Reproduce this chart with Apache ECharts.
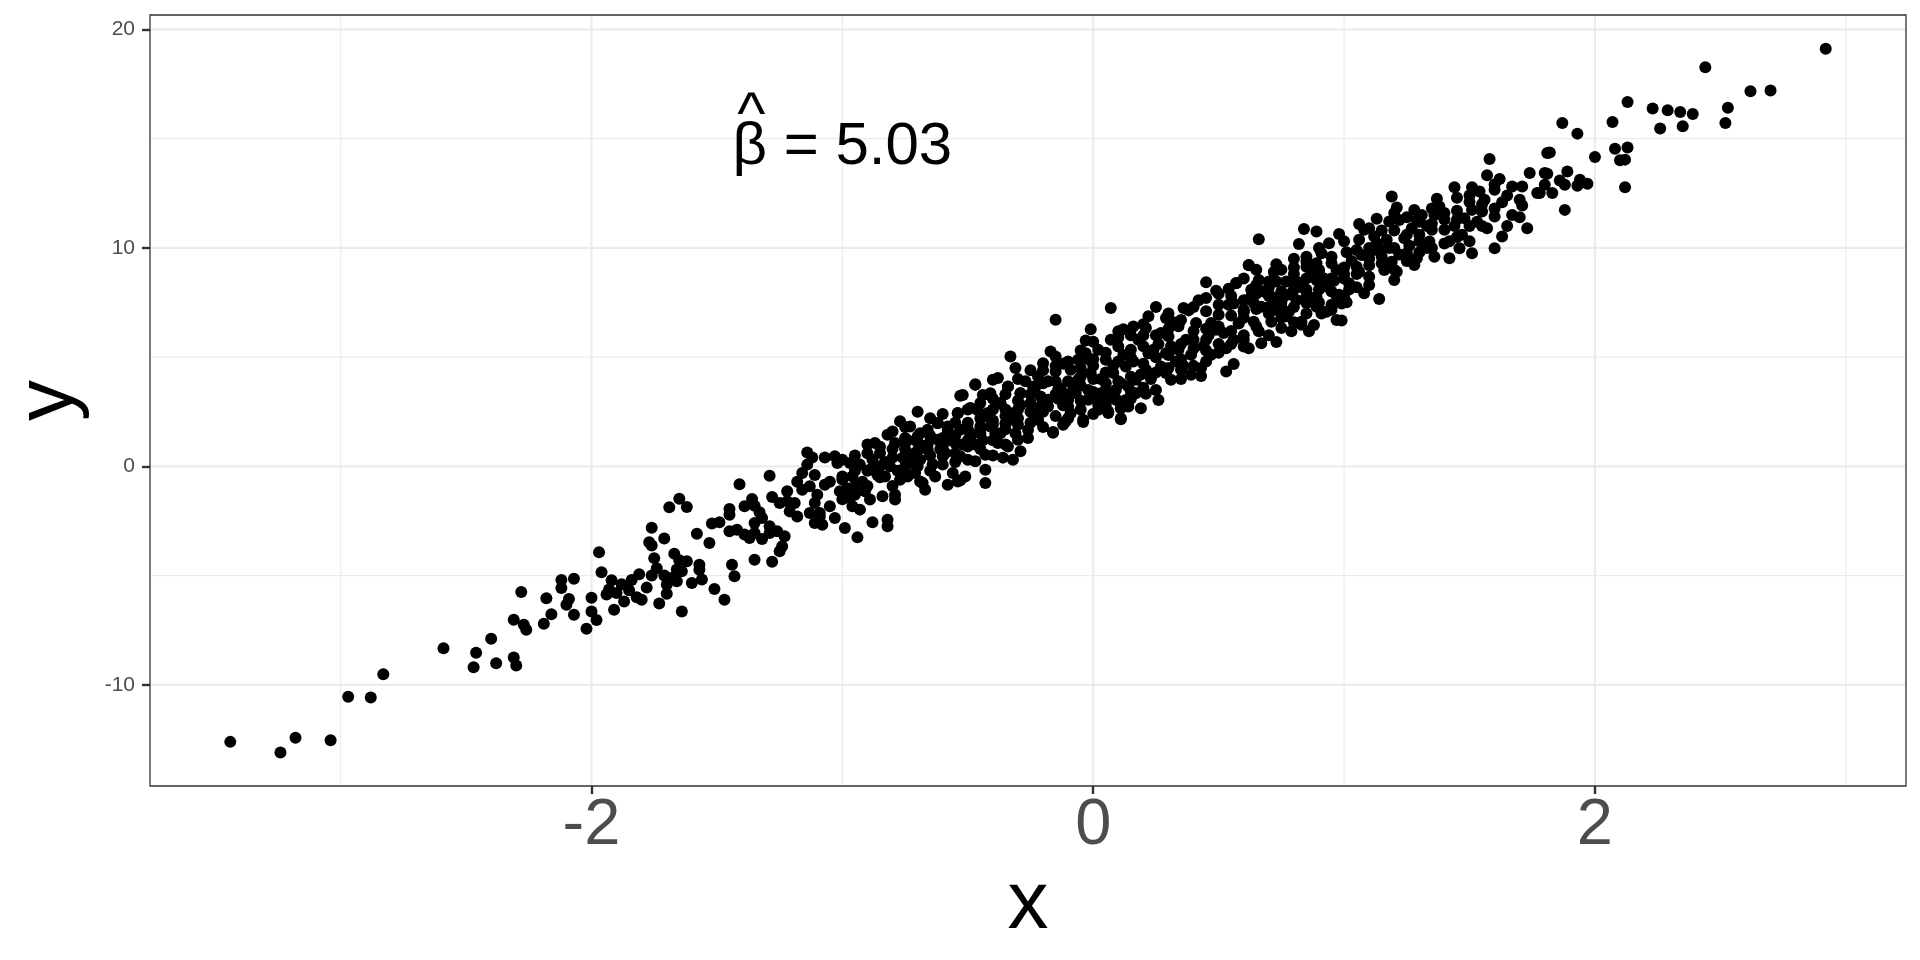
<!DOCTYPE html>
<html>
<head>
<meta charset="utf-8">
<title>beta hat scatter</title>
<script src="https://cdn.jsdelivr.net/npm/echarts@6/dist/echarts.min.js"></script>
<style>
  html, body { margin: 0; padding: 0; background: #fff; }
  #chart { width: 1920px; height: 960px; }
</style>
</head>
<body>
<div id="chart"></div>
<script>
// axis extents (ggplot expanded range)
const xRange = [-3.76, 3.24];
const yRange = [-14.63, 20.66];

const xTicks = [-2, 0, 2];
const yTicks = [-10, 0, 10, 20];
const xMinor = [-3, -1, 1, 3];
const yMinor = [-5, 5, 15];

// points, left tail
const pointsLower = [
  [-3.44,-12.61],[-3.24,-13.10],[-3.18,-12.42],[-3.04,-12.54],[-2.97,-10.55],[-2.88,-10.58],[-2.83,-9.51],
  [-2.59,-8.33],[-2.46,-8.53],[-2.47,-9.19],[-2.40,-7.89],[-2.38,-9.01],[-2.31,-8.75],[-2.30,-9.11],
  [-2.28,-5.75],[-2.31,-7.02],[-2.27,-7.25],[-2.26,-7.48],[-2.19,-7.20],[-2.18,-6.04],[-2.16,-6.77],
  [-2.12,-5.20],[-2.12,-5.57],[-2.07,-5.14],[-2.09,-6.07],[-2.10,-6.33],[-2.07,-6.79],[-2.02,-7.43],
  [-2.00,-6.64],[-1.98,-7.03],[-2.00,-6.01],[-1.97,-3.93],[-1.96,-4.85],[-1.92,-5.21],[-1.94,-5.87],
  [-1.91,-6.56],[-1.90,-5.80],[-1.87,-6.18],[-1.85,-5.67],[-1.82,-5.99],[-1.81,-4.94],[-1.78,-5.55],
  [-1.76,-2.81],[-1.71,-3.30],[-1.77,-3.47],[-1.76,-3.62],[-1.75,-4.20],[-1.74,-4.66],[-1.71,-5.00],
  [-1.70,-5.41],[-1.70,-5.83],[-1.73,-6.28],[-1.69,-1.87],[-1.65,-1.48],[-1.65,-4.30],[-1.66,-4.72],
  [-1.64,-6.64],[-1.93,-5.64],[-1.88,-5.40],[-1.84,-5.20],[-1.80,-6.10],[-1.76,-5.00],[-1.68,-5.10],
  [-1.67,-4.00],
  [-1.62,-1.86],[-1.58,-3.08],[-1.53,-3.51],[-1.52,-2.62],[-1.49,-2.56],[-1.45,-1.95],[-1.45,-2.21],
  [-1.39,-1.83],[-1.35,-1.80],[-1.33,-2.10],[-1.32,-2.36],[-1.35,-2.59],[-1.45,-2.97],[-1.42,-2.90],
  [-1.39,-3.12],[-1.37,-3.28],[-1.35,-3.05],[-1.32,-3.32],[-1.29,-2.74],[-1.29,-3.05],[-1.26,-2.97],
  [-1.23,-3.20],[-1.24,-3.66],[-1.25,-3.89],[-1.35,-4.27],[-1.28,-4.37],[-1.44,-4.50],[-1.43,-5.03],
  [-1.62,-4.34],[-1.64,-4.80],[-1.57,-4.50],[-1.57,-4.73],[-1.56,-5.18],[-1.60,-5.34],[-1.66,-5.26],
  [-1.51,-5.61],[-1.47,-6.10],[-1.25,-1.68],[-1.21,-2.06],[-1.18,-2.29],[-1.13,-2.13],[-1.11,-2.59],
  [-1.08,-2.67],[-1.09,-2.13],[-1.03,-2.36],[-1.05,-1.83],[-0.99,-2.82],[-0.96,-1.83],[-0.93,-1.98],
  [-0.94,-3.25],[-0.88,-2.56],[-0.82,-2.44],[-0.82,-2.74],[-0.79,-1.52]
];

// points, centre of the cloud
const pointsMiddle = [
  [-1.41,-0.82],[-1.36,-1.49],[-1.29,-0.43],[-1.22,-1.14],[-1.19,-1.68],[-1.16,-0.30],[-1.16,-1.07],
  [-1.14,0.64],[-1.14,0.08],[-1.12,0.41],[-1.13,-0.91],[-1.11,-0.40],[-1.11,-1.68],[-1.09,-2.29],
  [-1.07,-0.84],[-1.07,0.41],[-1.03,0.46],[-1.02,0.15],[-1.01,-1.14],[-1.00,-0.46],[-0.97,0.15],
  [-0.97,-1.45],[-0.96,-0.46],[-0.95,-0.91],[-0.93,0.08],[-0.91,-1.14],[-0.89,-0.15],[-0.89,-1.52],
  [-0.88,0.30],[-0.87,1.07],[-0.85,0.61],[-0.84,-1.37],[-0.83,-0.46],[-0.82,1.45],[-0.81,0.00],
  [-0.79,-1.30],[-0.79,1.07],[-0.77,2.06],[-0.77,-0.61],[-0.75,1.30],[-0.75,0.46],[-0.74,-0.46],
  [-0.73,1.83],[-0.72,0.15],[-0.70,2.50],[-0.69,1.52],[-0.68,-0.76],[-0.67,-1.07],[-0.66,0.76],
  [-0.66,1.68],[-0.63,-0.46],[-0.62,1.98],[-0.62,1.22],[-0.60,0.46],[-0.58,-0.84],[-0.58,1.83],
  [-0.56,-0.30],[-0.55,1.07],[-0.54,2.44],[-0.53,3.23],[-0.54,-0.69],
  [-0.95,-0.20],[-0.90,0.60],[-0.86,-0.40],[-0.83,0.20],[-0.80,0.80],[-0.78,-0.20],[-0.76,0.40],
  [-0.74,1.20],[-0.71,-0.30],[-0.69,0.30],[-0.66,1.00],[-0.64,0.10],[-0.61,0.80],[-0.57,1.20],
  [-0.55,0.20],[-0.52,1.00],[-0.50,2.00],[-0.47,1.00],[-0.44,1.20],[-0.40,0.50],[-0.36,0.40],
  [-0.40,2.10],[-0.35,2.60],[-1.05,-0.70],[-1.10,-1.30],[-0.98,-1.00],[-0.92,-0.70],[-1.18,-0.70],
  [-1.22,-1.60],[-1.28,-1.40],
  [-0.47,3.73],[-0.49,2.67],[-0.16,1.57],[-0.04,2.03],[-0.12,1.91],[0.11,2.16],[0.06,2.44],[0.02,2.59],
  [-0.43,-0.76],[-0.43,-0.15],[-0.51,-0.46],[-0.53,-0.64],[-0.69,-0.69],[-0.32,0.30],[-0.29,0.69],
  [-0.26,1.30],[-0.34,0.91],[-0.38,1.07],[-0.43,0.53],[-0.47,0.23],[-0.53,0.46],[-0.59,0.61],
  [-0.67,0.91],[-0.71,0.61],[-0.75,0.00],[-0.75,1.07],[-0.58,1.52],[-0.53,1.68],[-0.49,1.37],
  [-0.45,1.68],[-0.41,1.83],[-0.37,1.52],[-0.33,2.13],[-0.30,1.22],[-0.42,2.44],[-0.37,2.90],
  [-0.34,3.66],[-0.29,3.35],[-0.23,3.66],[-0.21,2.74],[-0.23,2.29],[-0.18,3.05],[-0.14,3.51],
  [-0.10,2.74],[-0.07,3.35],[-0.02,3.05],[0.03,3.35],[0.09,3.05],[0.14,2.74],[0.17,3.35],
  [-0.70,1.37],[-0.72,0.15],[-0.60,0.08],[-0.50,0.91],
  [-0.15,6.71],[0.07,7.25],[-0.33,5.03],[-0.01,6.28],[-0.03,5.76],[0.10,6.18],[0.12,6.28],[0.25,7.29],
  [0.22,6.87],[0.21,6.33],[0.36,7.25],[0.38,7.14],[0.45,8.43],[0.42,7.60],[0.45,7.71],[0.49,8.04],
  [0.54,8.13],[0.57,8.39],[0.62,9.20],[0.54,7.40],[0.50,6.94],[0.60,7.09],[0.58,6.56],[0.49,6.25],
  [0.56,5.80],[0.60,5.49],[0.53,5.41],[0.47,5.11],[0.56,4.69],[0.53,4.34],[0.43,4.50],[0.43,4.14],
  [0.39,4.19],[0.35,4.42],[0.39,5.11],[0.37,5.80],[0.34,6.41],[0.29,6.79],[0.30,5.95],[0.29,5.18],
  [0.27,4.57],[0.31,3.96],[0.26,3.04],[0.21,3.32],[0.19,2.66],[0.15,3.43],[0.11,2.20],[0.11,2.66],
  [0.13,3.04],[0.17,3.96],[0.21,4.42],[0.22,5.18],[0.18,5.80],[0.15,5.34],[0.10,5.49],[0.13,4.57],
  [0.08,4.27],[0.05,3.81],[0.06,3.20],[0.06,2.51],[0.02,2.81],[0.01,3.20],[-0.02,3.50],[-0.01,4.27],
  [0.02,5.34],[0.05,4.88],[-0.03,5.18],[-0.06,4.88],[-0.09,4.42],[-0.06,3.96],[-0.04,2.13],[-0.09,2.43],
  [-0.11,2.05],[-0.16,1.54],[-0.10,3.04],[-0.13,3.58],[-0.15,4.34],[-0.17,5.26],[-0.15,5.03],[-0.20,4.72],
  [-0.22,4.11],[-0.24,3.65],[-0.21,3.20],[-0.18,2.74],[-0.22,2.13],[-0.26,1.67],[-0.29,3.35],[-0.29,2.81],
  [-0.34,3.65],[-0.38,4.04],[-0.40,3.96],[-0.47,3.76],[-0.41,3.35],[-0.44,3.27],[-0.37,2.89],[-0.33,2.43],
  [-0.35,1.97],[-0.31,1.51],[-0.52,3.27],[-0.49,2.66],[-0.54,2.43],[-0.46,2.58],[-0.42,2.28],[-0.45,1.82],
  [-0.39,1.51],[-0.62,1.97],[-0.58,1.67],[-0.49,1.51],[0.11,3.81],[0.14,3.65],[0.24,5.34],[0.29,4.27],
  [0.34,5.34],[0.45,5.80],[0.47,6.56],[0.41,6.56],
  [-0.25,4.40],[-0.18,3.90],[-0.12,4.70],[-0.05,4.10],[0.00,4.60],[0.03,4.00],[0.08,4.60],[0.12,5.10],
  [0.16,4.80],[0.19,4.20],[0.23,4.00],[0.26,5.60],[0.31,5.50],[0.33,4.80],[0.36,4.60],[0.40,5.40],
  [0.44,5.50],[0.46,6.00],[0.50,5.60],[0.52,6.10],[0.27,6.10],[0.32,6.60],[0.20,6.00],[-0.08,3.70],
  [-0.14,3.10],[-0.27,3.90],[-0.31,4.50],[-0.25,2.50],[-0.30,2.20],[-0.12,2.80],[0.04,2.90],[0.09,3.50],
  [-0.02,4.90],[0.07,5.80],[0.16,6.40]
];

// extra points estimated inside the solid black core of the cloud
const pointsCore = [
  [-1.00,-1.5],[-1.00,-0.6],[-1.00,0.3],[-0.95,-1.3],[-0.95,0.5],[-0.90,-0.9],[-0.90,-0.2],[-0.90,1.0],
  [-0.85,-0.5],[-0.85,0.0],[-0.85,0.9],[-0.80,-0.9],[-0.80,0.4],[-0.80,1.6],[-0.75,-0.3],[-0.75,0.8],
  [-0.75,1.8],[-0.70,0.0],[-0.70,0.7],[-0.70,1.1],[-0.65,-0.2],[-0.65,0.5],[-0.65,1.4],[-0.65,2.2],
  [-0.60,0.9],[-0.60,1.3],[-0.60,2.4],[-0.55,0.6],[-0.55,1.4],[-0.55,2.0],[-0.50,0.3],[-0.50,1.2],
  [-0.50,1.7],[-0.50,2.6],[-0.45,0.8],[-0.45,1.5],[-0.45,2.2],[-0.45,2.9],[-0.40,1.2],[-0.40,1.9],
  [-0.40,2.6],[-0.40,3.1],[-0.35,1.0],[-0.35,1.7],[-0.35,2.3],[-0.35,3.3],[-0.30,1.9],[-0.30,2.6],
  [-0.30,3.0],[-0.30,4.0],[-0.25,2.0],[-0.25,2.9],[-0.25,3.3],[-0.20,1.8],[-0.20,2.5],[-0.20,3.0],
  [-0.20,3.8],[-0.20,4.4],[-0.15,2.3],[-0.15,3.3],[-0.15,3.9],[-0.15,4.6],[-0.10,2.2],[-0.10,3.3],
  [-0.10,3.9],[-0.10,4.8],[-0.05,2.6],[-0.05,3.0],[-0.05,3.7],[-0.05,4.5],[-0.05,5.3],[0.00,2.4],
  [0.00,3.4],[0.00,4.0],[0.00,4.9],[0.00,5.7],[0.05,2.8],[0.05,3.5],[0.05,4.3],[0.05,5.2],
  [0.10,3.0],[0.10,3.9],[0.10,4.8],[0.10,5.9],[0.15,3.1],[0.15,4.1],[0.15,5.0],[0.15,6.0],
  [0.20,3.6],[0.20,4.7],[0.20,5.5],[0.20,6.5],[0.25,3.5],[0.25,4.3],[0.25,5.0],[0.25,6.0],
  [0.30,4.5],[0.30,5.1],[0.30,6.3],[0.30,7.0],[0.35,4.0],[0.35,4.9],[0.35,5.6],[0.35,6.7],
  [0.40,4.6],[0.40,5.8],[0.40,6.2],[0.40,7.3],[0.45,4.8],[0.45,5.3],[0.45,6.3],[0.45,7.1],
  [0.50,5.2],[0.50,6.4],[0.50,7.4],[0.50,7.9],[0.55,5.6],[0.55,6.2],[0.55,6.9],[0.55,7.8],
  [0.60,6.0],[0.60,6.8],[0.60,7.6],[0.60,8.6],[0.65,6.4],[0.65,7.2],[0.65,8.3],[0.65,9.0],
  [0.70,6.0],[0.70,7.0],[0.70,7.8],[0.70,8.2],[0.75,6.8],[0.75,7.3],[0.75,8.0],[0.75,9.0],
  [0.80,6.6],[0.80,7.3],[0.80,8.1],[0.80,9.1],[0.85,7.0],[0.85,7.8],[0.85,8.6],[0.85,9.6],
  [0.90,7.5],[0.90,8.1],[0.90,8.9],[0.90,10.0],[0.95,7.4],[0.95,8.6],[0.95,9.3],[1.00,7.8],
  [1.00,8.6],[1.00,9.1],[1.00,10.3],[1.05,8.2],[1.05,8.8],[1.05,9.9],[1.10,8.3],[1.10,9.2],
  [1.10,10.0],[1.10,10.9],[1.15,9.3],[1.15,9.9],[1.15,10.8],[1.20,9.0],[1.20,10.0],[1.20,10.8],
  [1.20,11.6],[1.25,9.4],[1.25,10.6],[1.25,11.4],[1.30,9.8],[1.30,10.3],[1.30,11.2],[1.35,10.0],
  [1.35,11.1],[1.35,11.8],[1.40,10.2],[1.40,11.6],[1.45,10.5],[1.45,11.3],[1.45,12.3],[1.50,10.3],
  [1.50,11.0],[1.50,12.4],[1.55,11.0],[1.55,12.0],[1.60,11.8],[1.60,12.9],[1.65,11.0],[1.65,12.4],
  [1.70,11.4],[1.70,12.2]
];

// points, right tail
const pointsUpper = [
  [0.66,10.40],[0.62,9.22],[0.73,9.25],[0.80,9.50],[0.82,10.18],[0.84,10.87],[0.89,10.75],[0.94,10.21],
  [0.98,10.64],[1.01,9.80],[1.06,11.09],[1.08,10.83],[1.06,10.37],[1.13,11.33],[1.19,12.35],[1.21,11.85],
  [1.18,11.21],[1.22,11.28],[1.28,11.74],[1.29,11.28],[1.37,12.25],[1.36,11.51],[1.35,10.83],[1.40,10.83],
  [1.34,10.29],[1.44,12.78],[1.51,12.78],[1.58,14.07],[1.57,13.32],[1.62,13.15],[1.60,12.66],[1.54,12.58],
  [1.56,12.20],[1.51,11.74],[1.48,11.36],[1.55,11.67],[1.60,11.44],[1.63,12.09],[1.67,11.51],[1.71,11.94],
  [1.73,10.90],[1.67,12.81],[1.71,12.81],[1.74,13.43],[1.77,12.51],[1.80,13.43],[1.81,14.34],[1.57,10.90],
  [1.63,10.52],[1.60,9.98],[1.51,9.76],[1.47,10.60],[1.46,9.98],[1.42,9.53],[1.36,9.60],[1.28,9.22],
  [1.29,9.53],[1.25,9.76],[1.24,10.44],[1.17,10.37],[1.13,10.21],[1.12,10.52],[1.19,9.37],[1.16,8.99],
  [1.20,8.53],[1.21,8.91],[1.14,7.66],[1.08,7.92],[1.10,8.68],[1.05,9.14],[1.07,9.68],[1.02,8.38],
  [0.99,7.46],[0.97,7.80],[0.97,6.70],[0.93,7.08],[0.97,8.99],[0.95,9.60],[0.91,9.76],[0.89,9.30],
  [0.87,8.84],[0.85,9.14],[0.89,8.53],[0.93,8.23],[0.85,8.08],[0.81,8.46],[0.77,8.46],[0.73,8.46],
  [0.70,8.46],[0.66,8.53],[0.63,8.08],[0.57,8.38],[0.56,7.46],[0.60,7.08],[0.63,7.77],[0.67,7.31],
  [0.71,7.77],[0.73,7.16],[0.78,7.08],[0.76,7.77],[0.71,6.62],[0.64,6.62],[0.58,6.54],[0.81,7.61],
  [0.83,6.62],[0.89,7.31],[0.91,7.00],[0.88,6.47],[0.79,7.92],[0.85,9.37],
  [0.98,7.86],[1.01,7.51],[0.99,6.68],[0.95,7.17],[0.91,7.09],[0.86,6.18],[0.83,6.48],[0.79,6.18],
  [0.75,6.33],[0.73,5.69],[0.67,5.64],[0.66,6.18],[0.62,5.41],[0.60,5.80],[0.60,7.17],[0.64,7.48],
  [0.77,6.87],[0.85,7.48],[0.89,7.78],[0.79,7.86],[0.73,7.63],
  [0.68,8.00],[0.72,8.90],[0.75,7.50],[0.80,8.80],[0.83,8.20],[0.87,7.70],[0.90,9.00],[0.92,8.60],
  [0.96,8.50],[1.00,8.80],[1.03,9.40],[1.06,8.90],[1.10,9.50],[1.12,9.90],[1.15,9.60],[1.18,10.00],
  [1.22,9.70],[1.26,10.10],[1.30,10.60],[1.33,11.00],[1.40,11.30],[1.44,11.00],[0.65,7.90],[0.70,7.30],
  [0.95,8.00],[1.02,8.10],[1.27,10.90],[1.31,11.50],[1.38,11.90],[1.45,11.70],[1.50,12.10],[1.53,11.20],
  [1.42,10.30],[1.33,10.00],
  [2.92,19.11],[2.44,18.27],[2.62,17.17],[2.70,17.20],[2.53,16.41],[2.52,15.72],[2.39,16.13],[2.34,16.22],
  [2.35,15.57],[2.29,16.30],[2.26,15.46],[2.23,16.38],[2.13,16.68],[2.07,15.76],[2.08,14.54],[2.13,14.60],
  [2.10,14.01],[2.12,14.04],[2.12,12.78],[2.00,14.16],[1.93,15.23],[1.87,15.72],[1.82,14.37],[1.89,13.50],
  [1.81,13.39],[1.86,13.09],[1.88,12.89],[1.94,13.12],[1.97,12.94],[1.93,12.84],[1.80,12.89],[1.78,12.51],
  [1.83,12.51],[1.88,11.74]
];

const annotPos = [-1, 15];
const annotText = 'β = 5.03';

document.addEventListener("DOMContentLoaded", () => {
    const chart = echarts.init(document.getElementById('chart'), null, { renderer: 'canvas' });
    const font = 'Liberation Sans';

    // one line series per grid line, drawn through the axes
    const gridLine = (v, vertical, width) => ({
        type: 'line',
        silent: true,
        z: 0,
        symbol: 'none',
        animation: false,
        lineStyle: { color: '#EBEBEB', width: width },
        data: vertical ? [[v, yRange[0]], [v, yRange[1]]] : [[xRange[0], v], [xRange[1], v]]
    });

    const gridSeries = [
        ...xMinor.map(v => gridLine(v, true, 1.1)),
        ...yMinor.map(v => gridLine(v, false, 1.1)),
        ...xTicks.map(v => gridLine(v, true, 2.2)),
        ...yTicks.map(v => gridLine(v, false, 2.2))
    ];

    const allPoints = pointsLower.concat(pointsMiddle, pointsCore, pointsUpper);

    chart.setOption({
        animation: false,
        backgroundColor: '#fff',
        grid: {
            left: 146, right: 14, top: 15, bottom: 174,
            show: true, z: 3,
            backgroundColor: 'transparent',
            borderColor: '#333333', borderWidth: 1.3
        },
        xAxis: {
            type: 'value',
            min: xRange[0], max: xRange[1],
            name: 'x',
            nameLocation: 'middle',
            nameGap: 72,
            nameTextStyle: { fontFamily: font, fontSize: 82, color: '#000' },
            axisLine: { show: false, onZero: false },
            splitLine: { show: false },
            axisTick: { show: true, customValues: xTicks, length: 8, lineStyle: { color: '#333333', width: 2.4 } },
            axisLabel: { customValues: xTicks, margin: 8, fontFamily: font, fontSize: 65, color: '#4D4D4D' }
        },
        yAxis: {
            type: 'value',
            min: yRange[0], max: yRange[1],
            name: 'y',
            nameLocation: 'middle',
            nameGap: 60,
            nameTextStyle: { fontFamily: font, fontSize: 82, color: '#000' },
            axisLine: { show: false, onZero: false },
            splitLine: { show: false },
            axisTick: { show: true, customValues: yTicks, length: 8, lineStyle: { color: '#333333', width: 2.4 } },
            axisLabel: { customValues: yTicks, margin: 15, fontFamily: font, fontSize: 21, color: '#4D4D4D' }
        },
        series: [
            ...gridSeries,
            {
                type: 'scatter',
                z: 2,
                symbol: 'circle',
                symbolSize: 12,
                itemStyle: { color: '#000', opacity: 1 },
                data: allPoints
            },
            {
                type: 'scatter',
                z: 4,
                symbolSize: 0,
                silent: true,
                itemStyle: { opacity: 1 },
                label: {
                    show: true,
                    position: 'inside',
                    fontFamily: font,
                    fontSize: 60,
                    color: '#000',
                    textBorderWidth: 0
                },
                data: [
                    { value: annotPos, label: { formatter: annotText, offset: [0, 9] } },
                    { value: annotPos, label: { formatter: '^', offset: [-91, -21] } }
                ]
            }
        ]
    });

    window.addEventListener('resize', () => chart.resize());
});
</script>
</body>
</html>
